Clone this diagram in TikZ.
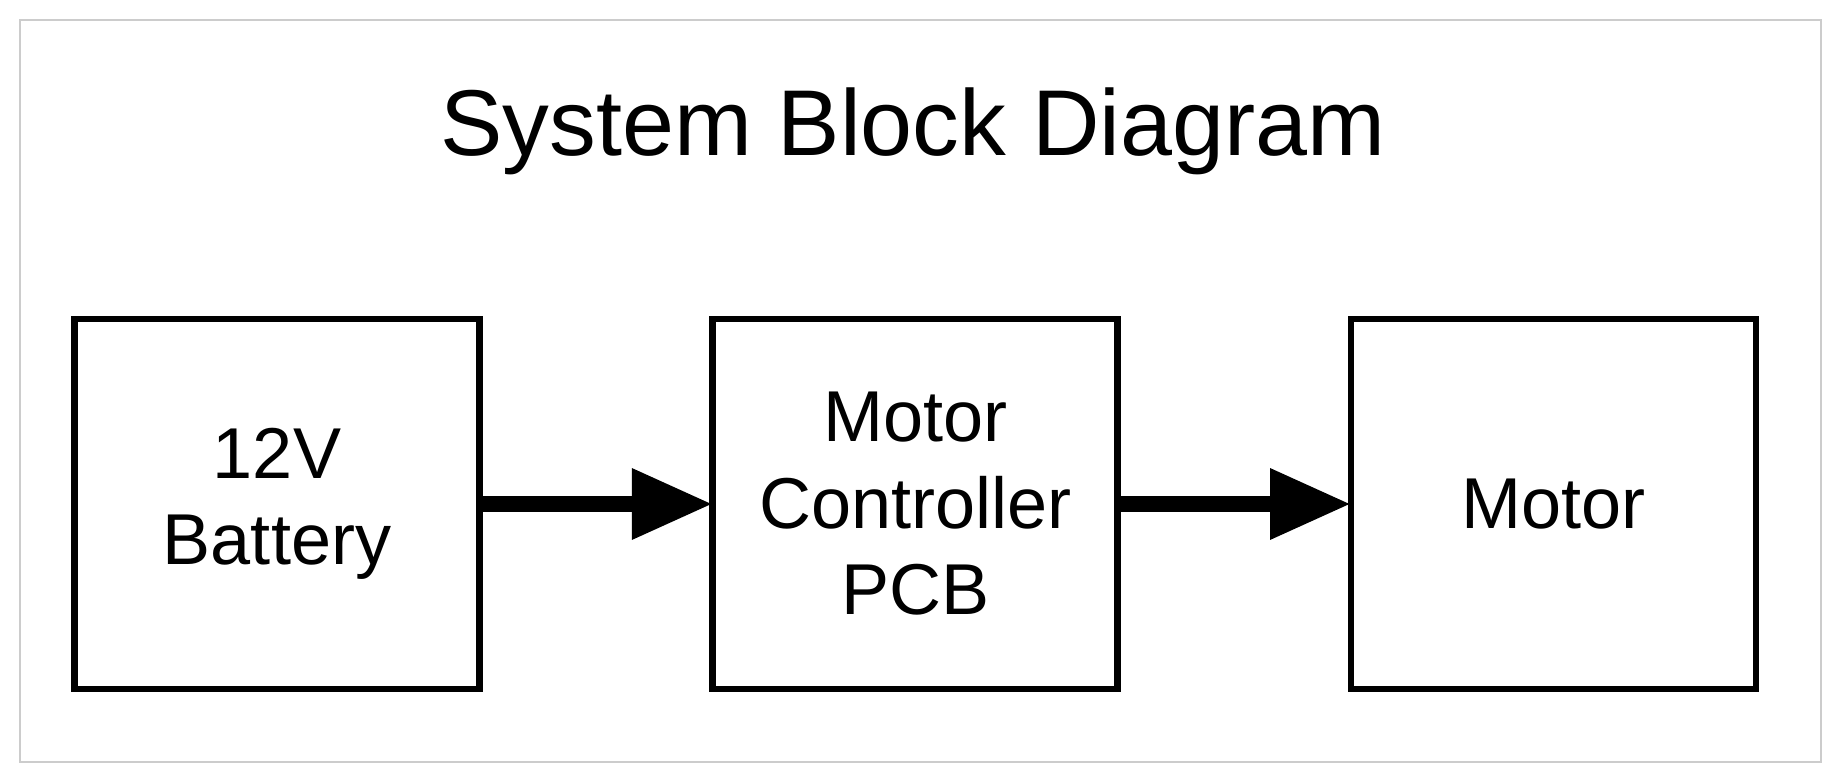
\documentclass[tikz,border=0pt]{standalone}
\usepackage{fontspec}
\setmainfont{Liberation Sans}
\usepackage{tikz}
\usetikzlibrary{arrows.meta,positioning}

\begin{document}
\begin{tikzpicture}[font=\fontsize{20.5}{24.6}\selectfont,
  block/.style={rectangle,fill=white,draw=black,text=black,line width=1.9pt,minimum width=4.05cm,minimum height=3.70cm,align=center,inner sep=0pt},
  flow/.style={-{Triangle[length=8.1mm,width=6.7mm]},draw=black,line width=4.6pt,shorten >=-1pt}]
\useasboundingbox (0,0) rectangle (18.47,-7.80);
\draw[draw=black!20,line width=0.8pt] (0.20,-0.20) rectangle (18.21,-7.62);
\node[anchor=base,font=\fontsize{26.6}{30}\selectfont] (title) at (9.13,-1.555) {System Block Diagram};
\node[block] (battery) at (2.77,-5.04) {12V\\Battery};
\node[block,right=2.265cm of battery] (controller) {Motor\\Controller\\PCB};
\node[block,right=2.265cm of controller] (motor) {Motor};
\draw[flow] (battery) -- (controller);
\draw[flow] (controller) -- (motor);
\end{tikzpicture}
\end{document}
